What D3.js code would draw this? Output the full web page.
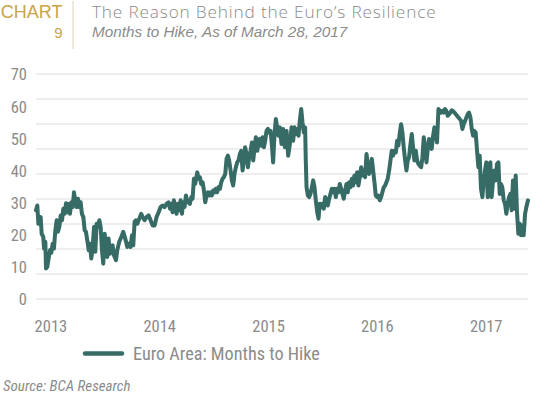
<!DOCTYPE html>
<html>
<head>
<meta charset="utf-8">
<script src="https://cdn.jsdelivr.net/npm/d3@7"></script>
<style>
  html, body { margin: 0; padding: 0; background: #ffffff; }
  svg { display: block; }
  .narrow { font-family: "Liberation Sans Narrow", "Roboto Condensed", "DejaVu Sans Condensed", sans-serif; }
</style>
</head>
<body>
<svg id="chart" width="550" height="414"></svg>
<script>
// ---------------- DATA ----------------
const chartLabel = "CHART";
const chartNumber = "9";
const title = "The Reason Behind the Euro\u2019s Resilience";
const subtitle = "Months to Hike, As of March 28, 2017";
const seriesName = "Euro Area: Months to Hike";
const source = "Source: BCA Research";

const yTicks = [0, 10, 20, 30, 40, 50, 60, 70];
const xTicks = [2013, 2014, 2015, 2016, 2017];

// observation dates as decimal years
const dates = [
2012.718,2012.730,2012.740,2012.761,2012.770,2012.785,2012.792,2012.804,2012.810,2012.822,
2012.831,2012.847,2012.859,2012.871,2012.883,2012.896,2012.908,2012.920,2012.932,2012.945,
2012.957,2012.969,2012.981,2012.994,2013.006,2013.018,2013.030,2013.043,2013.055,2013.067,
2013.079,2013.092,2013.104,2013.116,2013.128,2013.140,2013.153,2013.165,2013.177,2013.189,
2013.202,2013.214,2013.226,2013.238,2013.251,2013.263,2013.275,2013.287,2013.300,2013.312,
2013.324,2013.336,2013.349,2013.361,2013.373,2013.385,2013.398,2013.410,2013.422,2013.434,
2013.453,2013.465,2013.483,2013.502,2013.520,2013.538,2013.557,2013.575,2013.587,2013.600,
2013.612,2013.624,2013.636,2013.649,2013.667,2013.685,2013.698,2013.716,2013.734,2013.753,
2013.771,2013.789,2013.808,2013.826,2013.845,2013.863,2013.881,2013.900,2013.918,2013.936,
2013.949,2013.961,2013.973,2013.985,2013.998,2014.010,2014.022,2014.034,2014.047,2014.059,
2014.071,2014.083,2014.096,2014.108,2014.120,2014.132,2014.145,2014.157,2014.169,2014.181,
2014.200,2014.212,2014.224,2014.236,2014.249,2014.261,2014.273,2014.285,2014.298,2014.310,
2014.322,2014.334,2014.347,2014.359,2014.371,2014.383,2014.396,2014.408,2014.420,2014.432,
2014.444,2014.457,2014.469,2014.481,2014.493,2014.506,2014.518,2014.530,2014.542,2014.555,
2014.567,2014.579,2014.591,2014.604,2014.616,2014.628,2014.640,2014.653,2014.665,2014.677,
2014.689,2014.702,2014.714,2014.726,2014.738,2014.751,2014.763,2014.775,2014.787,2014.800,
2014.812,2014.824,2014.836,2014.849,2014.861,2014.873,2014.885,2014.897,2014.910,2014.922,
2014.934,2014.946,2014.959,2014.974,2014.989,2015.005,2015.020,2015.035,2015.051,2015.066,
2015.081,2015.093,2015.106,2015.118,2015.130,2015.142,2015.155,2015.167,2015.179,2015.191,
2015.197,2015.204,2015.216,2015.228,2015.240,2015.253,2015.265,2015.277,2015.289,2015.302,
2015.314,2015.326,2015.338,2015.351,2015.363,2015.375,2015.387,2015.400,2015.412,2015.424,
2015.436,2015.448,2015.461,2015.473,2015.485,2015.497,2015.510,2015.522,2015.534,2015.546,
2015.559,2015.571,2015.583,2015.595,2015.608,2015.620,2015.632,2015.644,2015.657,2015.669,
2015.681,2015.693,2015.706,2015.718,2015.730,2015.742,2015.755,2015.767,2015.779,2015.791,
2015.804,2015.816,2015.828,2015.840,2015.853,2015.865,2015.877,2015.889,2015.901,2015.914,
2015.926,2015.938,2015.950,2015.963,2015.975,2015.987,2015.999,2016.012,2016.024,2016.036,
2016.048,2016.061,2016.073,2016.085,2016.097,2016.110,2016.122,2016.134,2016.146,2016.159,
2016.171,2016.183,2016.195,2016.208,2016.220,2016.232,2016.244,2016.257,2016.269,2016.281,
2016.293,2016.306,2016.318,2016.330,2016.342,2016.354,2016.367,2016.379,2016.391,2016.403,
2016.416,2016.428,2016.440,2016.452,2016.465,2016.477,2016.489,2016.501,2016.514,2016.526,
2016.538,2016.550,2016.563,2016.575,2016.587,2016.599,2016.612,2016.624,2016.636,2016.648,
2016.661,2016.673,2016.685,2016.697,2016.710,2016.722,2016.734,2016.746,2016.758,2016.771,
2016.783,2016.795,2016.807,2016.820,2016.832,2016.844,2016.856,2016.869,2016.881,2016.893,
2016.905,2016.918,2016.930,2016.942,2016.954,2016.967,2016.979,2016.991,2017.003,2017.016,
2017.028,2017.040,2017.052,2017.065,2017.077,2017.089,2017.101,2017.114,2017.126,2017.138,
2017.150,2017.163,2017.175,2017.187,2017.199,2017.212,2017.224,2017.239
];

// Euro Area: months to first rate hike
const monthsToHike = [
27.6,29.1,23.4,25.5,20.3,19.3,15.7,17.8,9.5,10.0,
12.1,15.2,14.4,17.2,15.7,21.4,24.5,20.9,22.4,26.0,
24.5,28.1,26.5,29.8,27.0,29.6,26.5,30.1,28.6,33.2,
30.7,28.6,31.2,28.6,30.1,26.5,25.5,21.4,20.9,18.3,
15.2,17.2,12.6,15.7,22.4,14.7,23.4,22.4,24.5,22.4,
15.2,11.0,20.3,16.2,13.1,18.8,14.1,16.2,16.7,13.6,
12.1,15.2,17.8,19.3,20.9,18.8,16.2,17.2,16.2,19.8,
16.7,24.0,24.5,23.4,25.0,26.5,25.5,24.5,25.5,26.0,
24.5,22.9,22.9,25.5,27.0,28.6,29.1,28.6,29.6,30.1,
28.1,29.6,27.0,30.7,28.6,26.5,29.6,27.6,30.7,26.5,
30.1,28.6,32.2,30.1,30.7,29.6,31.7,31.2,37.4,35.8,
39.4,37.4,37.9,35.8,36.3,33.8,30.1,32.2,33.2,32.2,
33.2,32.2,33.8,33.2,34.3,33.2,34.8,34.3,36.3,37.4,
37.9,38.9,43.6,44.6,43.1,40.0,36.9,35.3,38.9,41.0,
42.5,43.1,45.1,46.1,40.0,43.1,47.2,45.1,41.0,44.1,
46.1,48.7,43.1,46.7,50.3,46.1,48.7,49.8,47.7,50.3,
47.2,49.2,52.3,52.9,51.8,52.3,48.2,42.5,51.3,56.0,
53.4,50.8,53.4,48.2,52.9,47.2,52.3,44.6,48.2,53.4,
49.2,53.4,51.3,52.9,50.8,55.4,59.1,54.9,51.8,53.4,
43.1,34.8,32.2,31.7,32.7,34.8,36.9,34.8,30.7,27.0,
25.0,29.6,28.6,29.6,28.1,31.7,30.7,29.1,31.2,32.7,
34.3,33.2,34.3,31.7,34.3,33.2,35.8,34.3,32.7,31.2,
33.8,35.8,33.2,36.3,34.8,37.4,35.3,38.4,36.3,39.4,
35.3,37.9,41.0,38.4,40.0,37.9,45.1,42.0,38.9,41.0,
43.6,40.0,36.3,32.2,31.7,32.2,30.7,31.7,33.2,34.8,
35.3,36.3,37.4,40.0,43.1,46.1,44.6,46.1,45.6,49.2,
47.7,51.8,54.4,51.8,47.2,43.1,40.0,43.1,44.1,48.2,
51.3,47.2,43.1,46.1,43.1,42.0,41.5,41.0,44.1,50.3,
47.2,42.5,46.7,49.8,48.2,46.7,50.8,53.4,52.3,48.7,
59.1,58.5,58.0,58.5,58.0,59.1,58.5,57.0,57.5,58.0,
58.7,58.5,58.0,57.5,57.0,56.5,56.0,55.4,52.9,54.4,
55.4,56.5,57.5,58.0,56.5,52.9,50.8,52.3,51.8,46.1,
41.0,44.6,34.3,31.7,36.9,40.0,42.5,31.7,42.0,42.5,
31.7,36.9,40.0,36.9,42.0,42.5,32.7,35.8,34.8,30.7,
29.6,26.5,29.6,31.7,32.7,27.6,36.9,28.1,38.4,27.0,
20.3,23.4,19.8,22.9,19.8,26.5,28.6,30.7
];

// ---------------- CHART ----------------
const svg = d3.select("#chart");
const gold = "#c9a448";
const grayText = "#8b8b8b";
const lineColor = "#366b66";

const x = d3.scaleLinear().domain(d3.extent(dates)).range([36, 528]);
const y = d3.scaleLinear().domain([0, 70]).range([299, 74]);

// header
svg.append("text").attr("x", 62.5).attr("y", 17.5).attr("text-anchor", "end")
  .attr("font-family", "'Liberation Sans', Arial, sans-serif").attr("font-size", 18)
  .attr("fill", gold).text(chartLabel);
svg.append("text").attr("x", 62.5).attr("y", 37.5).attr("text-anchor", "end")
  .attr("font-family", "'Liberation Sans', Arial, sans-serif").attr("font-size", 15)
  .attr("fill", gold).text(chartNumber);
svg.append("line").attr("x1", 73).attr("x2", 73).attr("y1", 1).attr("y2", 49)
  .attr("stroke", "#ddd2b6").attr("stroke-width", 1);
svg.append("text").attr("x", 92).attr("y", 17.5)
  .attr("font-family", "'Open Sans', 'Liberation Sans', sans-serif").attr("font-size", 17.2)
  .attr("font-weight", 300).attr("letter-spacing", 0.85)
  .attr("fill", grayText).text(title);
svg.append("text").attr("x", 92).attr("y", 36.5)
  .attr("font-family", "'Liberation Sans', Arial, sans-serif").attr("font-size", 15.3)
  .attr("font-style", "italic")
  .attr("fill", grayText).text(subtitle);

// gridlines (10 evenly spaced lines across the plot height)
const gridIdx = d3.range(10);
const gy = d3.scaleLinear().domain([0, 9]).range([y(0), y(70)]);
svg.append("g").selectAll("line").data(gridIdx).join("line")
  .attr("x1", 36).attr("x2", 528)
  .attr("y1", d => gy(d)).attr("y2", d => gy(d))
  .attr("stroke", "#e8e8e8").attr("stroke-width", 1.3);

// y axis
const yAxis = svg.append("g").attr("transform", "translate(36,0)")
  .call(d3.axisLeft(y).tickValues(yTicks).tickSize(0).tickPadding(9).tickFormat(d3.format("d")));
yAxis.select(".domain").remove();
yAxis.selectAll("text").attr("class", "narrow").attr("font-size", 16.5)
  .attr("fill", grayText).attr("dy", "0.36em");

// x axis
const xAxis = svg.append("g").attr("transform", "translate(0,299)")
  .call(d3.axisBottom(x).tickValues(xTicks).tickSize(0).tickPadding(0).tickFormat(d3.format("d")));
xAxis.select(".domain").remove();
xAxis.selectAll("text").attr("class", "narrow").attr("font-size", 16.5)
  .attr("fill", grayText).attr("text-anchor", "end").attr("y", 33).attr("dy", 0);

// series line
const line = d3.line().x((d, i) => x(dates[i])).y(d => y(d));
svg.append("path").datum(monthsToHike)
  .attr("d", line)
  .attr("fill", "none").attr("stroke", lineColor).attr("stroke-width", 4)
  .attr("stroke-linejoin", "round").attr("stroke-linecap", "round");

// legend
svg.append("line").attr("x1", 85).attr("x2", 122).attr("y1", 353.5).attr("y2", 353.5)
  .attr("stroke", lineColor).attr("stroke-width", 4.5).attr("stroke-linecap", "round");
svg.append("text").attr("class", "narrow").attr("x", 133).attr("y", 359.5)
  .attr("font-size", 18.2).attr("fill", grayText).text(seriesName);

// source
svg.append("text").attr("class", "narrow").attr("x", 3).attr("y", 391)
  .attr("font-size", 15).attr("font-style", "italic").attr("fill", grayText).text(source);
</script>
</body>
</html>
